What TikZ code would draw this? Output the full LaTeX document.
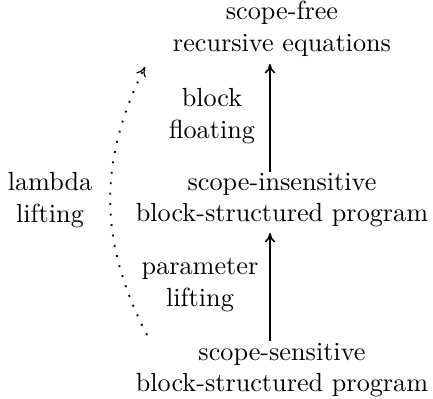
\documentclass[tikz,border=0pt]{standalone}
\usetikzlibrary{arrows.meta}
\begin{document}
\begin{tikzpicture}[x=0.3817pt,y=-0.3817pt,
  lbl/.style={align=center,inner sep=0pt},
  arr/.style={-{To[length=3.6pt,width=4pt]},semithick},
  darr/.style={-{To[line width=0.45pt,length=3.6pt,width=4pt]},line width=0.7pt,dash pattern=on 0.7pt off 3.3pt}]
\useasboundingbox (0,0) rectangle (433,399);
\node[lbl] (top) at (282,29) {scope-free\\recursive equations};
\node[lbl] (mid) at (282,200) {scope-insensitive\\block-structured program};
\node[lbl] (bot) at (282,370) {scope-sensitive\\block-structured program};
\coordinate (a1s) at (270,172);
\coordinate (a1e) at (270,64);
\coordinate (a2s) at (270,341);
\coordinate (a2e) at (270,233);
\draw[arr] (a1s) -- (a1e);
\draw[arr] (a2s) -- (a2e);
\node[lbl] (bf) at (212,116) {block\\floating};
\node[lbl] (pl) at (200,285) {parameter\\lifting};
\node[lbl] (ll) at (50,200) {lambda\\lifting};
\coordinate (ds) at (147,335);
\coordinate (de) at (145,67);
\draw[darr] (ds) to[bend left=27] (de);
\end{tikzpicture}
\end{document}
